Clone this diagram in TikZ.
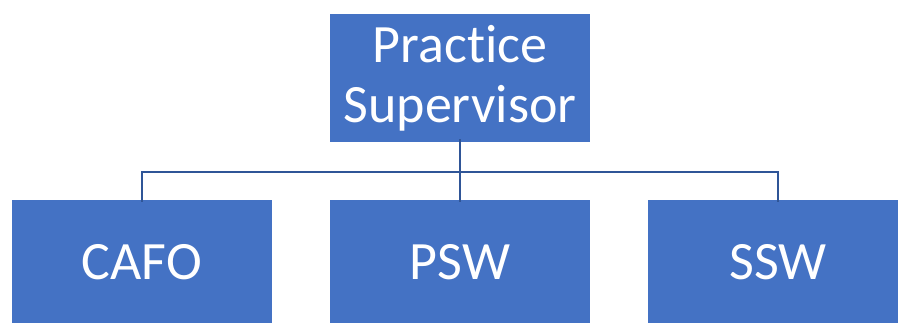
\documentclass[tikz,border=0pt]{standalone}
\usepackage{fontspec}
\setmainfont[Ligatures={NoCommon,NoRare,NoContextual}]{Carlito}
\definecolor{boxfill}{HTML}{4472C4}
\definecolor{linec}{HTML}{2F5597}
\begin{document}
\begin{tikzpicture}[x=1pt,y=-1pt,
  orgbox/.style={fill=boxfill,draw=none,text=white,inner sep=0pt,
    font=\fontsize{54}{60}\selectfont,align=center},
  conn/.style={draw=linec,line width=1.6pt}]
\useasboundingbox (0,0) rectangle (898,322);
\begin{scope}
\clip (0,0) rectangle (898,322);
\node[orgbox,minimum width=260pt,minimum height=128pt] (top) at (460,78) {Practice\\Supervisor};
\node[orgbox,minimum width=260pt,minimum height=124pt] (cafo) at (142,262) {CAFO};
\node[orgbox,minimum width=260pt,minimum height=124pt] (psw) at (460,262) {PSW};
\node[orgbox,minimum width=260pt,minimum height=124pt] (ssw) at (778,262) {SSW};
\end{scope}
\coordinate (bus) at (460,172);
\draw[conn] ([yshift=3pt]top.south) -- ([yshift=-2pt]psw.north);
\draw[conn] ([yshift=-2pt]cafo.north) |- (bus) -| ([yshift=-2pt]ssw.north);
\end{tikzpicture}
\end{document}
